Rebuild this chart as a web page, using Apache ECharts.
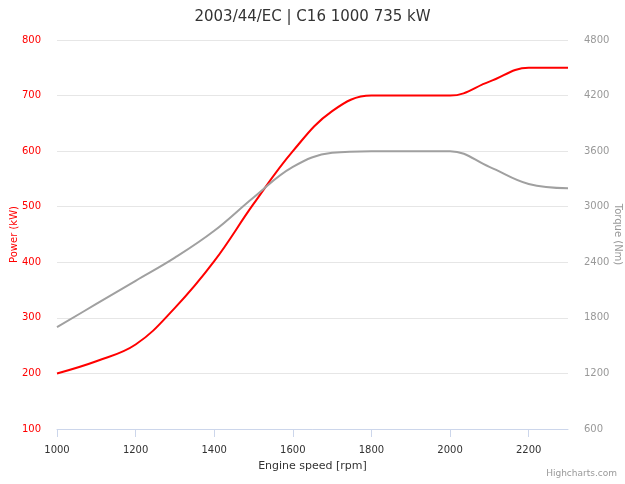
<!DOCTYPE html>
<html>
<head>
<meta charset="utf-8">
<script src="https://cdn.jsdelivr.net/npm/echarts@6/dist/echarts.min.js"></script>
<style>
  html, body { margin: 0; padding: 0; background: #fff; }
  #myChart { width: 625px; height: 484px; }
</style>
</head>
<body>
<div id="myChart"></div>
<script>
const rpm = [1000, 1100, 1200, 1300, 1400, 1500, 1600, 1700, 1800, 1900, 2000, 2100, 2200, 2300];
const power = [200, 222, 252, 318, 402, 505, 600, 672, 700, 700, 700, 725, 750, 750];
const torque = [1700, 1950, 2200, 2450, 2740, 3100, 3430, 3582, 3600, 3600, 3600, 3430, 3245, 3200];
const xTicks = [1000, 1200, 1400, 1600, 1800, 2000, 2200];

const myChart = echarts.init(document.getElementById('myChart'));
const font = 'DejaVu Sans, sans-serif';
const plain = v => String(v);

const option = {
    animation: false,
    title: {
        text: '2003/44/EC | C16 1000 735 kW',
        left: 'center',
        top: 5,
        textStyle: { fontFamily: font, fontSize: 15, fontWeight: 'normal', color: '#333333' }
    },
    grid: { left: 57, right: 57, top: 40, bottom: 55, outerBoundsMode: 'none', containLabel: false },
    xAxis: {
        type: 'value',
        min: 1000,
        max: 2300,
        name: 'Engine speed [rpm]',
        nameLocation: 'middle',
        nameGap: 32,
        nameMoveOverlap: false,
        nameTextStyle: { fontFamily: font, fontSize: 11, color: '#333333' },
        axisLine: { show: true, lineStyle: { color: '#ccd6eb' } },
        axisTick: { show: true, length: 8, lineStyle: { color: '#ccd6eb' }, customValues: xTicks },
        axisLabel: { fontFamily: font, fontSize: 10, color: '#333333', margin: 16, customValues: xTicks, formatter: plain },
        splitLine: { show: false }
    },
    yAxis: [
        {
            type: 'value',
            min: 100,
            max: 800,
            interval: 100,
            name: 'Power (kW)',
            nameLocation: 'middle',
            nameRotate: 90,
            nameGap: 38,
            nameMoveOverlap: false,
            nameTextStyle: { fontFamily: font, fontSize: 10, color: '#ff0000' },
            axisLine: { show: false },
            axisTick: { show: false },
            axisLabel: { fontFamily: font, fontSize: 10, color: '#ff0000', margin: 16, formatter: plain },
            splitLine: { lineStyle: { color: '#e6e6e6' } }
        },
        {
            type: 'value',
            min: 600,
            max: 4800,
            interval: 600,
            name: 'Torque (Nm)',
            nameLocation: 'middle',
            nameRotate: -90,
            nameGap: 45,
            nameMoveOverlap: false,
            nameTextStyle: { fontFamily: font, fontSize: 10, color: '#999999' },
            axisLine: { show: false },
            axisTick: { show: false },
            axisLabel: { fontFamily: font, fontSize: 10, color: '#999999', margin: 16, formatter: plain },
            splitLine: { show: false }
        }
    ],
    graphic: [{
        type: 'text',
        right: 8,
        bottom: 6,
        style: { text: 'Highcharts.com', fontFamily: font, fontSize: 9, fill: '#999999' }
    }],
    series: [
        {
            name: 'Power',
            type: 'line',
            yAxisIndex: 0,
            data: rpm.map((r, i) => [r, power[i]]),
            smooth: 0.4,
            showSymbol: false,
            lineStyle: { color: '#ff0000', width: 2 }
        },
        {
            name: 'Torque',
            type: 'line',
            yAxisIndex: 1,
            data: rpm.map((r, i) => [r, torque[i]]),
            smooth: 0.4,
            showSymbol: false,
            lineStyle: { color: '#a0a0a0', width: 2 }
        }
    ]
};
myChart.setOption(option);
</script>
</body>
</html>
